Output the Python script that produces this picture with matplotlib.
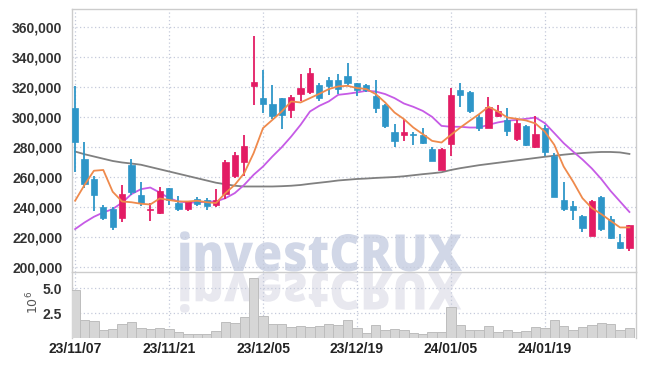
import numpy as np
import matplotlib
matplotlib.use("Agg")
import matplotlib.pyplot as plt
from matplotlib.ticker import FuncFormatter
from matplotlib.textpath import TextPath
from matplotlib.patches import PathPatch
from matplotlib.font_manager import FontProperties
from matplotlib.transforms import Affine2D

# ---- data (prices in thousands) ----
dates = ["23/11/07", "23/11/21", "23/12/05", "23/12/19", "24/01/05", "24/01/19"]
label_idx = [0, 10, 20, 30, 40, 50]

opens = [306.2, 272.4, 259.1, 240.4, 239.1, 232.7, 268.4, 248.4, 238.0, 236.0,
         252.7, 242.7, 239.3, 245.6, 245.1, 241.8, 249.1, 261.3, 270.0, 320.7,
         312.9, 309.1, 312.9, 304.7, 315.6, 316.9, 321.8, 325.1, 325.1, 327.8,
         322.7, 321.8, 314.4, 308.4, 290.4, 288.2, 289.3, 288.4, 278.7, 265.3,
         282.2, 318.2, 317.1, 300.4, 293.3, 301.0, 298.0, 285.6, 294.0, 280.0,
         292.9, 274.0, 245.3, 241.3, 234.0, 221.3, 247.3, 232.4, 217.3, 212.9]
closes = [283.8, 255.6, 248.4, 232.7, 226.7, 248.9, 250.0, 242.7, 238.7, 251.1,
          244.9, 239.3, 244.0, 242.2, 240.9, 245.1, 270.4, 274.9, 281.1, 323.8,
          308.7, 301.3, 301.8, 313.6, 319.6, 329.6, 312.7, 320.7, 318.9, 322.9,
          318.2, 318.2, 306.0, 294.0, 284.0, 290.4, 288.0, 283.1, 271.1, 279.1,
          315.1, 315.1, 304.0, 293.3, 306.7, 304.2, 291.3, 296.0, 281.6, 288.7,
          277.3, 247.3, 238.9, 238.0, 226.2, 244.0, 225.8, 219.6, 212.9, 228.0]
highs = [321.1, 283.8, 261.1, 241.8, 240.0, 254.9, 272.2, 256.7, 243.0, 253.8,
         253.3, 247.8, 244.5, 246.7, 246.2, 252.2, 271.8, 277.3, 288.2, 354.4,
         331.8, 321.8, 313.0, 315.1, 328.9, 332.9, 322.9, 327.3, 328.9, 336.2,
         323.3, 322.3, 324.9, 308.8, 295.6, 299.3, 290.4, 292.7, 280.4, 279.5,
         319.6, 322.9, 317.5, 302.2, 313.8, 308.4, 306.2, 299.6, 295.1, 300.7,
         294.7, 276.2, 257.3, 244.4, 234.7, 244.9, 247.8, 234.0, 222.4, 228.4]
lows = [263.4, 253.3, 237.8, 231.5, 224.9, 230.0, 248.0, 241.1, 231.0, 235.6,
        241.8, 237.8, 237.8, 241.1, 238.2, 240.5, 245.6, 259.6, 261.0, 308.4,
        303.3, 298.9, 292.2, 299.6, 310.7, 315.8, 310.7, 315.1, 315.8, 321.8,
        314.4, 317.3, 302.9, 293.3, 280.4, 284.0, 281.8, 282.2, 270.7, 264.9,
        274.2, 307.1, 302.9, 291.1, 293.0, 300.0, 287.8, 284.0, 281.2, 279.6,
        274.4, 247.0, 237.8, 231.8, 223.6, 220.9, 224.0, 219.1, 212.5, 211.1]

ma5 = [244.5, 255.0, 264.5, 265.0, 250.5, 244.0, 243.5, 242.5, 242.0, 246.0,
       245.0, 244.0, 244.0, 244.5, 243.5, 243.0, 249.6, 255.1, 262.9, 276.2,
       292.9, 298.4, 304.0, 310.7, 310.0, 312.9, 315.8, 318.9, 320.7, 321.1,
       319.6, 318.9, 315.6, 310.0, 303.3, 298.9, 293.3, 288.9, 284.4, 283.3,
       288.4, 293.3, 297.8, 302.2, 307.1, 304.0, 300.0, 299.1, 298.0, 296.0,
       290.5, 281.8, 267.3, 257.3, 246.2, 239.6, 235.6, 231.1, 226.7, 226.7]
ma20 = [225.6, 230.0, 233.8, 236.7, 238.9, 243.3, 248.9, 252.2, 253.3, 250.0,
        246.2, 244.0, 243.3, 243.3, 244.0, 244.0, 246.2, 249.6, 255.1, 261.8,
        267.3, 274.0, 280.2, 287.3, 295.1, 304.0, 307.8, 310.7, 315.1, 315.8,
        316.7, 317.8, 317.3, 315.6, 312.9, 309.3, 307.1, 304.4, 300.4, 294.4,
        293.8, 293.8, 293.3, 293.3, 295.1, 296.7, 297.8, 298.4, 299.1, 300.0,
        296.2, 289.6, 282.9, 277.3, 272.0, 266.0, 259.0, 251.0, 244.0, 237.0]
ma60 = [277.3, 275.5, 274.0, 272.5, 271.0, 270.0, 269.3, 268.5, 267.0, 265.5,
        264.0, 262.5, 261.0, 259.5, 258.0, 256.5, 255.5, 254.5, 254.0, 254.0,
        254.0, 254.0, 254.2, 254.5, 255.0, 255.8, 256.5, 257.2, 258.0, 258.5,
        259.0, 259.3, 259.7, 260.0, 260.3, 260.8, 261.5, 262.2, 262.8, 263.5,
        265.0, 266.2, 267.2, 268.2, 269.0, 269.8, 270.6, 271.4, 272.2, 273.0,
        273.8, 274.5, 275.2, 275.8, 276.3, 276.7, 277.0, 277.0, 276.7, 275.7]

# volume in millions
volume = [4.8, 1.83, 1.7, 0.83, 0.93, 1.43, 1.6, 1.0, 0.93, 1.0,
          0.9, 0.6, 0.4, 0.4, 0.4, 0.7, 1.6, 1.5, 2.1, 6.0,
          2.23, 1.43, 1.43, 1.1, 1.2, 1.1, 1.2, 1.43, 1.33, 1.8,
          1.0, 0.5, 1.3, 0.8, 0.9, 0.77, 0.5, 0.4, 0.6, 0.6,
          3.1, 1.3, 0.8, 0.8, 1.2, 0.6, 0.8, 0.6, 0.7, 1.1,
          1.0, 1.8, 1.2, 0.8, 1.1, 1.33, 1.5, 1.4, 0.8, 1.0]

UP = "#e31c64"
DOWN = "#2e96c8"
GRID = "#c5cadb"
FRAME = "#cccccc"
TICKFONT = ["Liberation Sans", "DejaVu Sans"]
TICKSIZE = 10

o = np.array(opens) * 1000
c = np.array(closes) * 1000
h = np.array(highs) * 1000
l = np.array(lows) * 1000
vol = np.array(volume) * 1e6
idx = np.arange(len(o))

fig = plt.figure(figsize=(6.45, 3.66), dpi=100)
fig.patch.set_facecolor("white")
ax = fig.add_axes([72/645, 1-272/366, (636-72)/645, (272-9)/366])
axv = fig.add_axes([72/645, 1-338/366, (636-72)/645, (338-272)/366])

# watermark with reflection (pixel coords)
fp = FontProperties(family=["Open Sans", "DejaVu Sans"], weight="heavy")
tp = TextPath((0, 0), "investCRUX", size=100, prop=fp)
ext = tp.get_extents()
s = 282 / ext.width
t1 = Affine2D().translate(-ext.x0, 0).scale(s, s * 1.08).translate(180, 366-271)
t2 = Affine2D().translate(-ext.x0, 0).scale(s, -s * 1.08).translate(180, 366-273)
fig.add_artist(PathPatch(tp, transform=t1, facecolor="#d1d7e7", lw=0, zorder=-1))
fig.add_artist(PathPatch(tp, transform=t2, facecolor="#e8e8ef", lw=0, zorder=-1))

for a in (ax, axv):
    a.set_facecolor("none")
    a.set_xlim(-0.33, 59.7)
    a.set_xticks(label_idx)
    a.grid(True, color=GRID, linestyle=(0, (1, 2)), linewidth=0.9)
    a.set_axisbelow(True)
    a.tick_params(length=0)
    for sp in a.spines.values():
        sp.set_color(FRAME)
        sp.set_linewidth(1.0)

# candles
colors = [UP if c[i] >= o[i] else DOWN for i in idx]
ax.vlines(idx, l, h, colors=colors, linewidth=1.3, zorder=3)
body_lo = np.minimum(o, c)
body_h = np.maximum(np.abs(c - o), 700)
ax.bar(idx, body_h, bottom=body_lo, width=0.66, color=colors, edgecolor=colors,
       linewidth=0.5, zorder=4)

ax.plot(idx, np.array(ma60) * 1000, color="#808080", lw=1.3, zorder=2)
ax.plot(idx, np.array(ma20) * 1000, color="#c65be6", lw=1.3, zorder=2)
ax.plot(idx, np.array(ma5) * 1000, color="#ef8a4c", lw=1.3, zorder=5)

ax.set_ylim(197000, 372300)
ax.set_yticks(np.arange(200000, 360001, 20000))
ax.yaxis.set_major_formatter(FuncFormatter(lambda v, p: f"{int(v):,}"))
ax.set_xticklabels([])
ax.tick_params(axis="y", pad=7, labelsize=TICKSIZE, labelcolor="#333333")
for t in ax.get_yticklabels():
    t.set_family(TICKFONT)
    t.set_fontweight("bold")

# volume
axv.bar(idx, vol, width=1.0, color="#d6d6d6", edgecolor="#bdbdbd", linewidth=0.7, zorder=3)
axv.set_ylim(0, 6.63e6)
axv.set_yticks([2.5e6, 5.0e6])
axv.set_yticklabels(["2.5", "5.0"])
axv.spines["top"].set_visible(False)
axv.spines["bottom"].set_visible(False)
axv.set_xticklabels(dates)
axv.tick_params(axis="y", pad=7, labelsize=TICKSIZE, labelcolor="#333333")
axv.tick_params(axis="x", pad=3, labelsize=TICKSIZE, labelcolor="#222222")
for t in axv.get_yticklabels() + axv.get_xticklabels():
    t.set_family(TICKFONT)
    t.set_fontweight("bold")
fig.text(33/645, 1-302/366, "10$^6$", rotation=90, ha="center", va="center",
         fontsize=9, color="#555555")

fig.savefig("out.png", dpi=100)
